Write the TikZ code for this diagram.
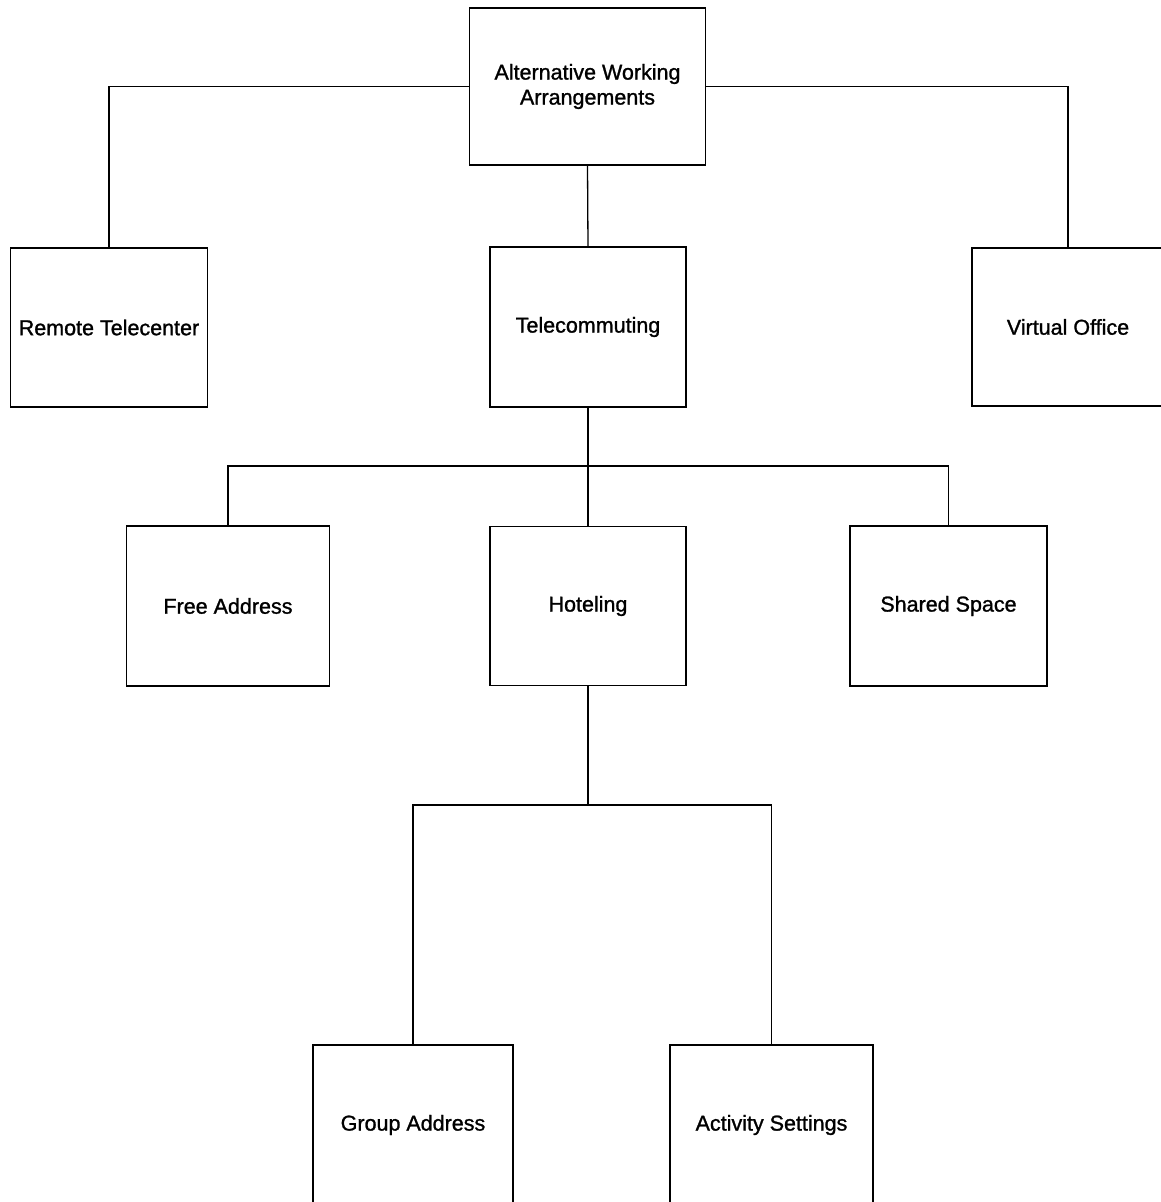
\documentclass[tikz,border=0pt]{standalone}
\usepackage{fontspec}
\setmainfont{Liberation Sans}[FakeBold=1.2]
\begin{document}
\begin{tikzpicture}[x=1pt,y=-1pt,
  box/.style={draw,line width=1.3pt,rectangle,inner sep=0pt,align=center,
    font=\fontsize{21.5}{25}\selectfont},
  conn/.style={line width=1.3pt}]
\useasboundingbox (0,0) rectangle (1161,1202);
\clip (0,0) rectangle (1161,1202);
\node[box,minimum width=236pt,minimum height=157pt] (top) at (587.5,86.5) {Alternative Working\\Arrangements};
\node[box,minimum width=197pt,minimum height=159pt] (remote) at (109,327.5) {Remote Telecenter};
\node[box,minimum width=196pt,minimum height=160pt] (tele) at (588,327) {Telecommuting};
\node[box,minimum width=192pt,minimum height=158pt] (virtual) at (1068,327) {Virtual Office};
\node[box,minimum width=203pt,minimum height=160pt] (free) at (228,606) {Free Address};
\node[box,minimum width=196pt,minimum height=159pt] (hotel) at (588,606) {Hoteling};
\node[box,minimum width=197pt,minimum height=160pt] (shared) at (948.5,606) {Shared Space};
\node[box,minimum width=200pt,minimum height=160pt] (group) at (413,1125) {Group Address};
\node[box,minimum width=203pt,minimum height=160pt] (activity) at (771.5,1125) {Activity Settings};
\coordinate (b1) at (588,466);
\coordinate (b2) at (588,805);
\draw[conn] (top.west) -| (remote.north);
\draw[conn] (top.east) -| (virtual.north);
\draw[conn] (top.south) -- (tele.north);
\draw[conn] (tele.south) -- (hotel.north);
\draw[conn] (free.north) |- (b1) -| (shared.north);
\draw[conn] (hotel.south) -- (b2);
\draw[conn] (group.north) |- (b2) -| (activity.north);
\end{tikzpicture}
\end{document}
